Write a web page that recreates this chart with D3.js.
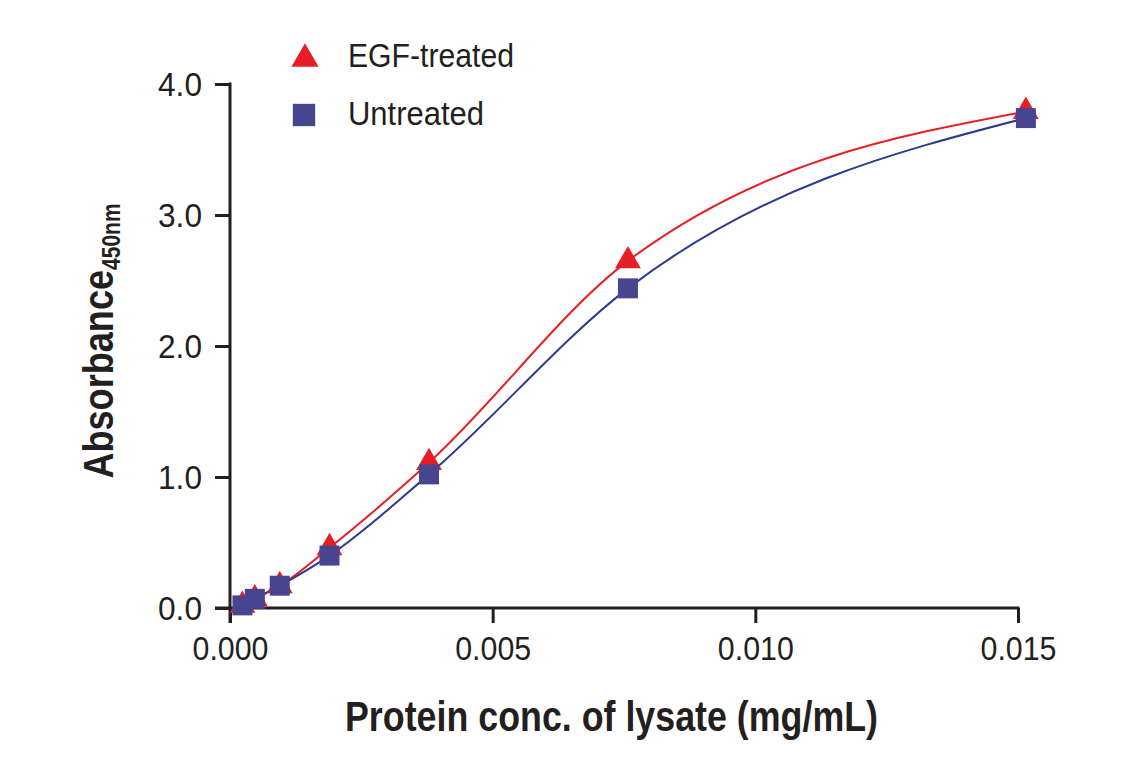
<!DOCTYPE html>
<html>
<head>
<meta charset="utf-8">
<script src="https://cdn.jsdelivr.net/npm/d3@7"></script>
<style>
  body { margin: 0; background: #fff; }
  svg { display: block; }
</style>
</head>
<body>
<div id="chart"></div>
<script>
// protein concentration of lysate (mg/mL), 2-fold serial dilution
const conc = [0.000237, 0.000473, 0.000947, 0.001894, 0.003788, 0.007575, 0.01515];
const egfTreated = [0.02, 0.07, 0.17, 0.46, 1.11, 2.65, 3.79];
const untreated = [0.02, 0.07, 0.17, 0.40, 1.02, 2.44, 3.74];
const xTicks = [0, 0.005, 0.010, 0.015];
const yTicks = [0, 1, 2, 3, 4];

const W = 1141, H = 768;
const RED = '#e61e26', BLUE = '#2e3a8f', SQUARE = '#47458f', INK = '#231f20';
const FONT = '"Liberation Sans", Arial, sans-serif';

const svg = d3.select('#chart').append('svg')
    .attr('width', W)
    .attr('height', H);

svg.append('rect').attr('width', W).attr('height', H).attr('fill', '#fff');

const x = d3.scaleLinear().domain([0, 0.015]).range([230, 1018]);
const y = d3.scaleLinear().domain([0, 4]).range([608, 84]);

// axes (ticks only, the axis lines are drawn below)
const xAxis = svg.append('g')
    .attr('transform', `translate(0,${y(0)})`)
    .call(d3.axisBottom(x).tickValues(xTicks).tickFormat(d3.format('.3f')).tickSize(15).tickPadding(14));
const yAxis = svg.append('g')
    .attr('transform', `translate(${x(0)},0)`)
    .call(d3.axisLeft(y).tickValues(yTicks).tickFormat(d3.format('.1f')).tickSize(15).tickPadding(13));

[xAxis, yAxis].forEach(g => {
    g.select('.domain').remove();
    g.selectAll('.tick line').attr('stroke', INK).attr('stroke-width', 3);
    g.selectAll('.tick text')
        .attr('fill', INK)
        .style('font-size', '33px')
        .style('font-family', FONT);
});
xAxis.selectAll('.tick text').attr('textLength', 76).attr('lengthAdjust', 'spacingAndGlyphs');
yAxis.selectAll('.tick text').attr('dy', '0.36em')
    .attr('textLength', 44).attr('lengthAdjust', 'spacingAndGlyphs');

svg.append('line')
    .attr('x1', x(0)).attr('x2', x(0))
    .attr('y1', y(4) - 1.5).attr('y2', y(0) + 15)
    .attr('stroke', INK).attr('stroke-width', 3);
svg.append('line')
    .attr('x1', x(0) - 15).attr('x2', x(0.015) + 1.5)
    .attr('y1', y(0)).attr('y2', y(0))
    .attr('stroke', INK).attr('stroke-width', 3);

// curves
const line = d3.line()
    .x(d => x(d[0]))
    .y(d => y(d[1]))
    .curve(d3.curveMonotoneX);

svg.append('path')
    .datum(d3.zip(conc, egfTreated))
    .attr('d', line)
    .attr('fill', 'none')
    .attr('stroke', RED)
    .attr('stroke-width', 2);

svg.append('path')
    .datum(d3.zip(conc, untreated))
    .attr('d', line)
    .attr('fill', 'none')
    .attr('stroke', BLUE)
    .attr('stroke-width', 2);

// markers
const tri = d3.symbol().type(d3.symbolTriangle).size(290);
const sq = d3.symbol().type(d3.symbolSquare).size(400);

svg.append('g').selectAll('path')
    .data(d3.zip(conc, egfTreated))
    .join('path')
    .attr('d', tri)
    .attr('transform', d => `translate(${x(d[0])},${y(d[1])})`)
    .attr('fill', RED);

svg.append('g').selectAll('path')
    .data(d3.zip(conc, untreated))
    .join('path')
    .attr('d', sq)
    .attr('transform', d => `translate(${x(d[0])},${y(d[1])})`)
    .attr('fill', SQUARE);

// legend
const legend = svg.append('g');
legend.append('path')
    .attr('d', d3.symbol().type(d3.symbolTriangle).size(320))
    .attr('transform', 'translate(305,59)')
    .attr('fill', RED);
legend.append('path')
    .attr('d', d3.symbol().type(d3.symbolSquare).size(500))
    .attr('transform', 'translate(304,115)')
    .attr('fill', SQUARE);
legend.append('text')
    .attr('x', 348).attr('y', 67)
    .attr('fill', INK)
    .attr('textLength', 166).attr('lengthAdjust', 'spacingAndGlyphs')
    .style('font-family', FONT).style('font-size', '34px')
    .text('EGF-treated');
legend.append('text')
    .attr('x', 348).attr('y', 125)
    .attr('fill', INK)
    .attr('textLength', 136).attr('lengthAdjust', 'spacingAndGlyphs')
    .style('font-family', FONT).style('font-size', '34px')
    .text('Untreated');

// axis titles
svg.append('text')
    .attr('x', 345).attr('y', 731)
    .attr('fill', INK)
    .attr('textLength', 533).attr('lengthAdjust', 'spacingAndGlyphs')
    .style('font-family', FONT).style('font-size', '43px').style('font-weight', 'bold')
    .text('Protein conc. of lysate (mg/mL)');

const yTitle = svg.append('text')
    .attr('transform', 'translate(113,341) rotate(-90) scale(0.84,1)')
    .attr('text-anchor', 'middle')
    .attr('fill', INK)
    .style('font-family', FONT).style('font-weight', 'bold');
yTitle.append('tspan').style('font-size', '43px').text('Absorbance');
yTitle.append('tspan').style('font-size', '25px').attr('dy', 7).text('450nm');
</script>
</body>
</html>
